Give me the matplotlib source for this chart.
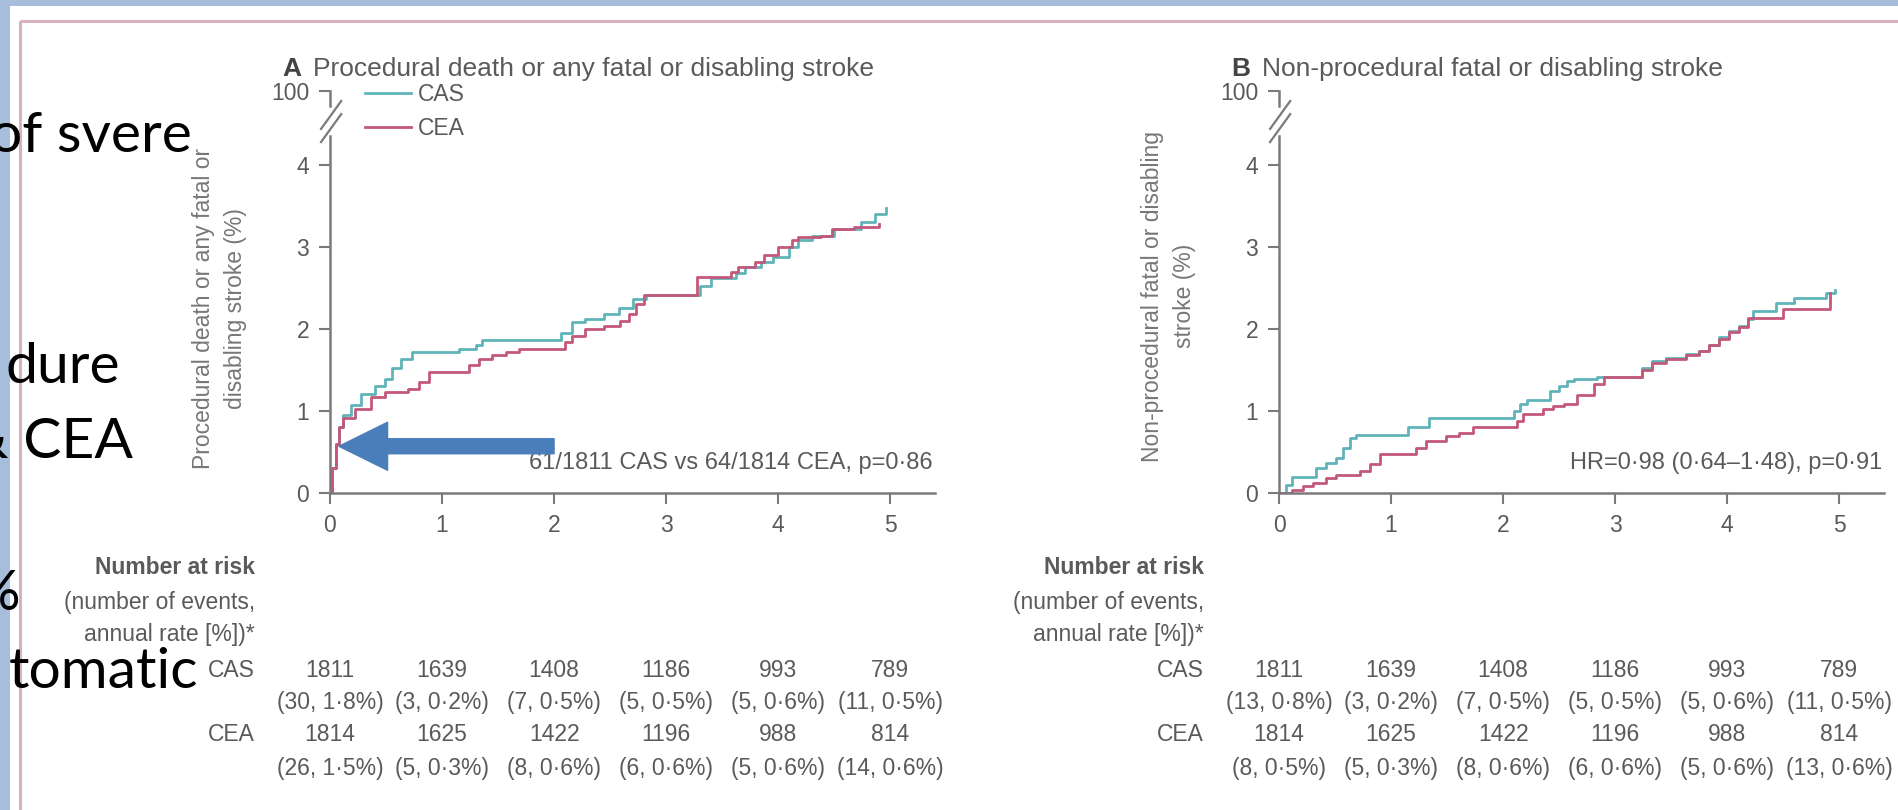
import matplotlib
matplotlib.use("Agg")
import matplotlib.pyplot as plt
from matplotlib.patches import Rectangle

# --- data ---
years = [0, 1, 2, 3, 4, 5]

# panel A: procedural death or any fatal or disabling stroke
a_cas_t = [0, 0.02, 0.05, 0.08, 0.12, 0.19, 0.28, 0.40, 0.49, 0.55, 0.63, 0.73, 1.15, 1.30, 1.36,
           2.06, 2.16, 2.28, 2.45, 2.58, 2.70, 2.82, 3.30, 3.40, 3.62, 3.70, 3.85, 3.95, 4.10,
           4.18, 4.30, 4.50, 4.74, 4.86, 4.96]
a_cas_v = [0, 0.30, 0.60, 0.80, 0.95, 1.07, 1.21, 1.31, 1.39, 1.52, 1.64, 1.72, 1.76, 1.80, 1.86,
           1.95, 2.08, 2.12, 2.18, 2.26, 2.36, 2.42, 2.52, 2.62, 2.68, 2.76, 2.82, 2.88, 3.00,
           3.08, 3.14, 3.22, 3.30, 3.40, 3.47]
a_cea_t = [0, 0.02, 0.05, 0.08, 0.12, 0.22, 0.37, 0.49, 0.70, 0.79, 0.88, 1.24, 1.33, 1.45, 1.57,
           1.69, 2.10, 2.16, 2.28, 2.45, 2.59, 2.67, 2.73, 2.80, 3.28, 3.58, 3.64, 3.79, 3.87,
           4.00, 4.12, 4.18, 4.38, 4.48, 4.68, 4.90]
a_cea_v = [0, 0.30, 0.60, 0.80, 0.91, 1.03, 1.17, 1.23, 1.27, 1.35, 1.47, 1.56, 1.64, 1.68, 1.72,
           1.76, 1.84, 1.92, 2.00, 2.04, 2.10, 2.18, 2.30, 2.42, 2.64, 2.70, 2.76, 2.82, 2.90,
           3.00, 3.08, 3.12, 3.14, 3.22, 3.24, 3.28]

# panel B: non-procedural fatal or disabling stroke
b_cas_t = [0, 0.06, 0.12, 0.33, 0.42, 0.51, 0.57, 0.63, 0.69, 1.15, 1.34, 2.10, 2.15, 2.21, 2.42,
           2.50, 2.57, 2.63, 2.84, 3.24, 3.33, 3.45, 3.63, 3.75, 3.84, 3.93, 4.02, 4.11, 4.19,
           4.23, 4.44, 4.60, 4.88, 4.96]
b_cas_v = [0, 0.10, 0.20, 0.31, 0.37, 0.43, 0.55, 0.67, 0.71, 0.80, 0.92, 1.00, 1.08, 1.14, 1.24,
           1.31, 1.37, 1.39, 1.42, 1.53, 1.61, 1.65, 1.69, 1.73, 1.81, 1.90, 1.98, 2.04, 2.12,
           2.22, 2.32, 2.38, 2.44, 2.48]
b_cea_t = [0, 0.12, 0.21, 0.30, 0.42, 0.51, 0.72, 0.81, 0.90, 1.22, 1.31, 1.49, 1.61, 1.73, 2.12,
           2.18, 2.36, 2.45, 2.54, 2.66, 2.81, 2.90, 3.24, 3.33, 3.45, 3.63, 3.75, 3.84, 3.93,
           4.02, 4.11, 4.19, 4.50, 4.92]
b_cea_v = [0, 0.04, 0.08, 0.12, 0.18, 0.22, 0.27, 0.35, 0.47, 0.55, 0.63, 0.69, 0.73, 0.80, 0.88,
           0.96, 1.02, 1.06, 1.09, 1.20, 1.33, 1.41, 1.50, 1.58, 1.64, 1.68, 1.73, 1.80, 1.88,
           1.96, 2.03, 2.14, 2.24, 2.44]

# number at risk (number of events, annual rate)
a_cas_risk = ["1811", "1639", "1408", "1186", "993", "789"]
a_cas_ev = ["(30, 1·8%)", "(3, 0·2%)", "(7, 0·5%)", "(5, 0·5%)", "(5, 0·6%)", "(11, 0·5%)"]
a_cea_risk = ["1814", "1625", "1422", "1196", "988", "814"]
a_cea_ev = ["(26, 1·5%)", "(5, 0·3%)", "(8, 0·6%)", "(6, 0·6%)", "(5, 0·6%)", "(14, 0·6%)"]
b_cas_risk = ["1811", "1639", "1408", "1186", "993", "789"]
b_cas_ev = ["(13, 0·8%)", "(3, 0·2%)", "(7, 0·5%)", "(5, 0·5%)", "(5, 0·6%)", "(11, 0·5%)"]
b_cea_risk = ["1814", "1625", "1422", "1196", "988", "814"]
b_cea_ev = ["(8, 0·5%)", "(5, 0·3%)", "(8, 0·6%)", "(6, 0·6%)", "(5, 0·6%)", "(13, 0·6%)"]

W, H = 1898, 810
CAS_C = "#5fb4b9"
CEA_C = "#c3587a"
GREY = "#5a5a5a"
FS = 16.5
plt.rcParams["font.family"] = ["Liberation Sans", "DejaVu Sans"]

fig = plt.figure(figsize=(W / 100, H / 100), dpi=100)
fig.patch.set_facecolor("#a6bedc")

bg = fig.add_axes([0, 0, 1, 1], zorder=0)
bg.set_xlim(0, W)
bg.set_ylim(H, 0)
bg.axis("off")
bg.add_patch(Rectangle((10, 6), W, H, facecolor="white", edgecolor="none"))
bg.add_patch(Rectangle((20, 21), W, H, facecolor="none", edgecolor="#d6b3bc", lw=2.2))


def panel(left, letter, title, ylab, ylab_y, cas_t, cas_v, cea_t, cea_v, note,
          cas_risk, cas_ev, cea_risk, cea_ev, legend=False):
    ax = fig.add_axes([left / W, (H - 493) / H, 605 / W, 410 / H], zorder=2)
    ax.patch.set_alpha(0)
    ax.step(cas_t, cas_v, where="post", color=CAS_C, lw=2.0, label="CAS")
    ax.step(cea_t, cea_v, where="post", color=CEA_C, lw=2.0, label="CEA")
    ax.set_xlim(0, 5.4)
    ax.set_ylim(0, 5.0)
    for s in ("top", "right"):
        ax.spines[s].set_visible(False)
    for s in ("left", "bottom"):
        ax.spines[s].set_color("#7a7a7a")
        ax.spines[s].set_linewidth(1.8)
    ax.spines["left"].set_bounds(0, 4.35)
    ax.set_xticks(years)
    ax.set_yticks([0, 1, 2, 3, 4, 4.9])
    ax.set_yticklabels(["0", "1", "2", "3", "4", "100"])
    ax.tick_params(axis="x", colors="#7a7a7a", labelcolor=GREY, labelsize=FS,
                   length=8, width=1.5, pad=7)
    ax.tick_params(axis="y", colors="#7a7a7a", labelcolor=GREY, labelsize=FS,
                   length=8, width=1.5, pad=7)
    # axis break
    ax.plot([0, 0], [4.72, 4.9], color="#7a7a7a", lw=1.8, clip_on=False)
    ax.plot([-0.08, 0.10], [4.28, 4.62], color="#7a7a7a", lw=1.6, clip_on=False)
    ax.plot([-0.08, 0.10], [4.44, 4.78], color="#7a7a7a", lw=1.6, clip_on=False)

    ax.text(-0.063, 1.034, letter, transform=ax.transAxes, ha="center", va="center",
            fontsize=19, fontweight="bold", color="#444444")
    ax.text(-0.028, 1.034, title, transform=ax.transAxes, ha="left", va="center",
            fontsize=19, color=GREY)
    ax.text(-0.182, ylab_y, ylab, transform=ax.transAxes, ha="center", va="center",
            rotation=90, fontsize=FS, color="#777777", linespacing=1.5)
    ax.text(5.38, 0.37, note, ha="right", va="center", fontsize=17, color=GREY)

    if legend:
        ax.legend(loc="upper left", bbox_to_anchor=(0.058, 1.0), frameon=False,
                  fontsize=FS, handlelength=2.0, handletextpad=0.3, labelspacing=0.5,
                  borderaxespad=0, borderpad=0, labelcolor=GREY)

    tr = ax.get_xaxis_transform()
    hx = -0.67
    ax.text(hx, -0.181, "Number at risk", transform=tr, ha="right", va="center",
            fontsize=FS, fontweight="bold", color=GREY)
    ax.text(hx, -0.267, "(number of events,", transform=tr, ha="right", va="center",
            fontsize=FS, color=GREY)
    ax.text(hx, -0.345, "annual rate [%])*", transform=tr, ha="right", va="center",
            fontsize=FS, color=GREY)
    ax.text(hx, -0.433, "CAS", transform=tr, ha="right", va="center", fontsize=FS, color=GREY)
    ax.text(hx, -0.590, "CEA", transform=tr, ha="right", va="center", fontsize=FS, color=GREY)
    for x, r1, e1, r2, e2 in zip(years, cas_risk, cas_ev, cea_risk, cea_ev):
        ax.text(x, -0.433, r1, transform=tr, ha="center", va="center", fontsize=FS, color=GREY)
        ax.text(x, -0.512, e1, transform=tr, ha="center", va="center", fontsize=FS, color=GREY)
        ax.text(x, -0.590, r2, transform=tr, ha="center", va="center", fontsize=FS, color=GREY)
        ax.text(x, -0.673, e2, transform=tr, ha="center", va="center", fontsize=FS, color=GREY)
    return ax


axA = panel(330, "A", "Procedural death or any fatal or disabling stroke",
            "Procedural death or any fatal or\ndisabling stroke (%)", 0.45,
            a_cas_t, a_cas_v, a_cea_t, a_cea_v, "61/1811 CAS vs 64/1814 CEA, p=0·86",
            a_cas_risk, a_cas_ev, a_cea_risk, a_cea_ev, legend=True)
axB = panel(1279, "B", "Non-procedural fatal or disabling stroke",
            "Non-procedural fatal or disabling\nstroke (%)", 0.48,
            b_cas_t, b_cas_v, b_cea_t, b_cea_v, "HR=0·98 (0·64–1·48), p=0·91",
            b_cas_risk, b_cas_ev, b_cea_risk, b_cea_ev)

# slide arrow pointing at the early procedural risk
axA.annotate("", xy=(0.08, 0.57), xytext=(2.0, 0.57), annotation_clip=False,
             arrowprops=dict(arrowstyle="simple,head_length=3.5,head_width=3.46,tail_width=1.08",
                             mutation_scale=10, color="#4a7ebb", shrinkA=0, shrinkB=0))

# slide text partly covered by the pasted figure
fg = fig.add_axes([0, 0, 1, 1], zorder=5)
fg.set_xlim(0, W)
fg.set_ylim(H, 0)
fg.axis("off")
for txt, x, y in [("of svere", 192, 152), ("dure", 120, 383), ("& CEA", 133, 458),
                  ("%", 20, 610), ("tomatic", 198, 688)]:
    fg.text(x, y, txt, ha="right", va="baseline", fontsize=41, family="Lato", color="black")

fig.savefig("out.png", dpi=100, facecolor=fig.get_facecolor())
